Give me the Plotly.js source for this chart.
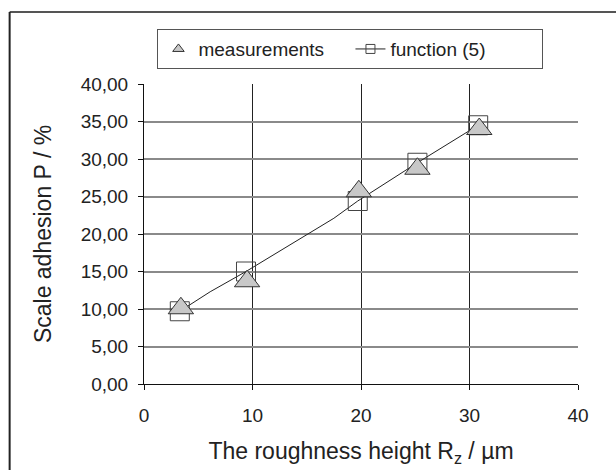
<!DOCTYPE html>
<html>
<head>
<meta charset="utf-8">
<script src="https://cdn.plot.ly/plotly-3.0.1.min.js"></script>
<style>
html,body{margin:0;padding:0;background:#fff;}
#chart{width:616px;height:470px;}
</style>
</head>
<body>
<div id="chart"></div>
<script>
// Measurements (triangles)
var measX = [3.4, 9.5, 19.8, 25.2, 30.9];
var measY = [10.1, 13.7, 25.7, 28.7, 34.0];
// Function (5) values at the measured roughness heights (squares)
var funcX = [3.3, 9.4, 19.7, 25.2, 30.8];
var funcY = [9.7, 15.0, 24.4, 29.5, 34.5];
// Function (5) curve as drawn (line, with its visible bends)
var curveX = [3.3, 6.1, 9.4, 17.5, 19.7, 22.7, 25.2, 30.8];
var curveY = [9.7, 12.3, 15.0, 22.1, 24.4, 27.2, 29.5, 34.5];
// Axis ticks
var xTicks = [0, 10, 20, 30, 40];
var yTicks = [0, 5, 10, 15, 20, 25, 30, 35, 40];
var names = ['measurements', 'function (5)'];

var FONT = 'Liberation Sans, Arial, sans-serif';
var TXT = '#222222';

var traces = [
  {x: curveX, y: curveY, mode: 'lines', showlegend: false, hoverinfo: 'skip',
   line: {color: '#222222', width: 1}},
  {x: funcX, y: funcY, mode: 'markers', showlegend: false,
   marker: {symbol: 'square-open', size: 19, color: '#444444', line: {width: 1, color: '#444444'}}},
  {x: measX, y: measY, mode: 'markers', showlegend: false,
   marker: {symbol: 'triangle-up', size: 22, color: '#c8c8c8', line: {width: 1, color: '#333333'}}},
  // legend entries
  {x: [null], y: [null], mode: 'markers', name: names[0],
   marker: {symbol: 'triangle-up', size: 10, color: '#c8c8c8', line: {width: 1, color: '#333333'}}},
  {x: [null], y: [null], mode: 'lines+markers', name: names[1],
   line: {color: '#222222', width: 1},
   marker: {symbol: 'square-open', size: 9, color: '#444444', line: {width: 1, color: '#444444'}}}
];

var layout = {
  width: 616, height: 470,
  margin: {l: 143.5, r: 38, t: 84, b: 86},
  paper_bgcolor: '#ffffff', plot_bgcolor: '#ffffff',
  separators: ',.',
  font: {family: FONT, color: TXT, size: 19},
  showlegend: true,
  legend: {
    orientation: 'h', x: 0.031, xanchor: 'left', y: 1.183, yanchor: 'top',
    entrywidth: 147, entrywidthmode: 'pixels',
    bordercolor: '#555555', borderwidth: 1, bgcolor: '#ffffff',
    font: {family: FONT, size: 19, color: TXT}
  },
  xaxis: {
    range: [0, 40], tickvals: xTicks, tickformat: 'd',
    showgrid: true, gridcolor: '#222222', gridwidth: 1,
    zeroline: false, showline: true, linecolor: '#111111', linewidth: 1,
    ticks: 'outside', ticklen: 5, tickcolor: '#111111',
    ticklabelstandoff: 9,
    tickfont: {family: FONT, size: 19, color: TXT},
    title: {text: 'The roughness height R<sub>z</sub> / µm', standoff: 18,
            font: {family: FONT, size: 23, color: TXT}}
  },
  yaxis: {
    range: [0, 40], tickvals: yTicks, tickformat: '.2f',
    showgrid: true, gridcolor: '#8a8a8a', gridwidth: 2,
    zeroline: false, showline: true, linecolor: '#111111', linewidth: 1,
    ticks: 'outside', ticklen: 5, tickcolor: '#111111',
    ticklabelstandoff: 6,
    tickfont: {family: FONT, size: 19, color: TXT},
    title: {text: 'Scale adhesion P / %', standoff: 22,
            font: {family: FONT, size: 23, color: TXT}}
  },
  shapes: [
    {type: 'line', xref: 'paper', yref: 'paper', x0: -0.3096, x1: 1.2, y0: 1.24, y1: 1.24,
     line: {color: '#555555', width: 2}},
    {type: 'line', xref: 'paper', yref: 'paper', x0: -0.3096, x1: -0.3096, y0: 1.24, y1: -0.4,
     line: {color: '#222222', width: 2}}
  ]
};

Plotly.newPlot('chart', traces, layout, {staticPlot: true, displayModeBar: false});
</script>
</body>
</html>
